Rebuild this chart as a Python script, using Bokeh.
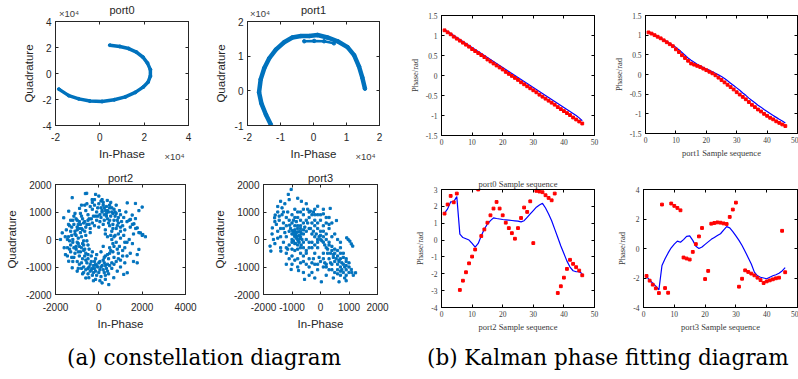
from bokeh.plotting import figure
from bokeh.models import Range1d, FixedTicker, LinearAxis, Div
from bokeh.layouts import row, column
from bokeh.embed import file_html
from bokeh.resources import INLINE

# ---------------- data ----------------
# (a) constellation diagrams
port0_i = [4500, 9000, 13000, 16500, 19500, 21500, 22800, 22800, 21800, 19500,
           16000, 11500, 6500, 1000, -4500, -9500, -14000, -18500]
port0_q = [21800, 20800, 19200, 16500, 12500, 8000, 3000, -2000, -6500, -10500,
           -14500, -18000, -20200, -21500, -21200, -19500, -17000, -12000]

port1_i = [-12900, -14400, -15800, -16500, -16000, -14900, -13400, -11400, -8900, -6400,
           -3800, -1300, 1200, 4200, 7300, 10300, 12300, 13800, 14800, 15600]
port1_q = [-9800, -6900, -3600, -400, 3300, 6600, 9400, 11900, 14000, 15400,
           15800, 15800, 16100, 15400, 14300, 12600, 10300, 7000, 3800, 600]
port1_inner_i = [-2800, 200, 3200, 6200]
port1_inner_q = [14300, 14400, 14300, 13700]

port2_pts = [
    (-620, 1670), (-560, 1680), (-150, 1640), (0, 1580), (-1230, 1520), (150, 1450), (390, 1420),
    (-310, 1450), (1310, 1330), (1690, 1310), (2000, 1180), (-890, 1130), (-1390, 1030), (-1620, 790),
    (1850, 1050), (1540, 890), (1690, 760), (1920, 240), (2150, 100), (2030, 180), (1770, 420),
    (1620, 570), (1460, 730), (-1690, 240), (-1770, 0), (-1540, -550), (-1390, -790), (-1230, -1030),
    (-1000, -1150), (-460, -1390), (-150, -1450), (150, -1580), (460, -1640), (690, -1390),
    (1150, -1270), (1310, -1210), (1770, -850), (1770, -550), (1850, -360),
    (-400, 1200), (-200, 1250), (0, 1300), (200, 1250), (350, 1200), (500, 1150), (700, 1100),
    (-600, 1050), (-300, 1100), (100, 1150), (300, 1050), (450, 1000), (600, 1000), (800, 950),
    (-100, 1000), (900, 800), (-500, 900), (-800, 850), (250, 900), (550, 850), (1000, 900), (-1100, 950),
    (-1200, 700), (-900, 650), (-700, 600), (-500, 700), (-300, 600), (-100, 700), (100, 800), (400, 750),
    (700, 700), (900, 600), (1100, 500), (1300, 650), (-1000, 450), (-800, 400), (-600, 450), (-400, 400),
    (-200, 500), (0, 450), (200, 550), (500, 500), (800, 400), (1000, 300), (1200, 350), (-1300, 300),
    (-1100, 200), (600, 300), (300, 350),
    (-1400, 100), (-1200, 0), (-1000, -100), (-800, 100), (-700, -50), (-600, 150), (-500, -200),
    (-900, -250), (400, 100), (600, 0), (800, -100), (1000, 50), (1200, -100), (1400, 0), (1600, 200),
    (200, -250), (500, -300), (-1300, -200), (-400, 250), (300, 200), (900, 200), (700, -250),
    (-1300, -450), (-1100, -500), (-900, -600), (-700, -400), (-500, -550), (-300, -450), (-100, -550),
    (100, -450), (300, -600), (500, -500), (700, -650), (900, -500), (1100, -400), (1300, -600),
    (-1000, -800), (-800, -850), (-600, -750), (-400, -900), (-200, -800), (0, -850), (200, -750),
    (400, -900), (600, -850), (800, -800), (1000, -750), (1200, -850),
    (-800, -1050), (-600, -1100), (-400, -1150), (-200, -1050), (0, -1200), (200, -1100), (400, -1150),
    (-300, -1300), (100, -1350), (600, -1050), (-500, -1250), (300, -1300),
    (1400, 700), (1550, 550), (1700, 400), (1850, 250), (2000, 150),
    (-1100, 300), (-950, 550), (-850, 250), (-750, -150), (-650, -350), (-1150, -300), (-1050, -350),
    (-950, 50), (-850, -450), (-750, 350), (-550, -50), (-450, -350), (-1250, 150), (-1350, -50),
    (-1450, -300), (150, 1050), (250, 1150), (400, 1050), (500, 1250), (650, 950), (750, 850),
    (50, 900), (-50, 1150), (350, 850), (600, 1150), (-250, -950), (-50, -1000), (150, -950),
    (-350, -1100), (-150, -1150), (50, -1100), (250, -1200), (-450, -1000), (-100, -1300), (350, -1050),
    (-1050, 150), (-900, 400), (-650, 300), (-550, 550), (-350, 750), (-150, 850), (50, 650),
    (250, 700), (450, 600), (650, 550), (850, 500), (1050, 650), (750, 150), (550, 150), (950, -250),
    (850, -350), (650, -450), (450, -700), (250, -850), (-150, -700), (-350, -600), (-550, -850),
    (-750, -700), (-950, -450), (-1150, -650), (-1250, 450), (-1050, 750), (-750, 750), (-450, 550),
    (-1350, 500), (-1500, 350), (-650, -600), (-250, -1200), (-700, -1200), (450, -1250),
    (-1150, 550), (-1000, 350), (-1200, -100), (-1050, -250), (-950, -150), (-800, -300), (-700, -200),
    (-600, -500), (-500, -700), (-350, -800), (-150, -900), (50, -800), (250, -650), (400, -550),
    (550, -400), (650, -150), (700, 100), (650, 400), (500, 700), (350, 950), (150, 1000), (-50, 850),
    (-250, 850), (-450, 750), (-650, 650), (-850, 550), (-1000, 700), (-1150, 850), (-1300, 700),
    (-1400, 550), (-1450, 0), (-1350, -350), (-1200, -800), (-900, -900), (-700, -1000), (-500, -1050),
    (-300, -1050), (-100, -950), (100, -1000), (300, -950), (500, -950), (700, -900), (900, -700),
    (1100, -600), (1200, -300), (1300, -100), (1150, 150), (1000, 450), (850, 700), (750, 1000),
    (950, 1050), (1150, 800), (-850, 950), (-650, 1250), (-300, 1350), (100, 1400), (-750, -1250),
    (-950, -1050), (-1250, -650), (-1450, -600), (-1550, 100), (-1600, -300), (-550, 1300),
    (-800, 1250), (1250, 1000), (1450, 450), (1550, -150), (1450, -500), (1600, -800), (-200, 1450),
    (200, 1350), (550, 1350), (800, 1250), (850, -1150), (1000, -1000), (-600, -1400), (-250, -1500),
    (50, -1500), (300, -1450),
]

port3_pts = [
    (-1030, 1820), (-1130, 1640), (-1400, 1390), (-1590, 890), (-1610, 790), (-1690, 420), (-1770, -240),
    (-1740, -420), (-1390, -420), (-670, 1390), (-100, 1210), (340, 1130), (560, 690), (100, 930),
    (-360, 1030), (-1030, -1090), (-770, -1130), (-560, -1450), (30, -1540), (650, -1540), (1080, -1090),
    (1230, -1210), (970, 0), (1080, -160), (1130, -240), (920, 60), (1030, -60),
    (-1000, 600), (-900, 500), (-800, 400), (-700, 500), (-600, 600), (-1100, 300), (-1000, 200),
    (-900, 100), (-800, 0), (-700, 100), (-600, 200), (-500, 300), (-900, 300), (-700, 300),
    (-1000, -100), (-800, -200), (-600, -100), (-500, 0), (-1200, 100), (-1100, -200), (-900, -400),
    (-700, -500), (-600, -300), (-400, -100), (-300, 200), (-400, 400), (-500, 700), (-300, 600),
    (-200, 700), (-100, 600), (0, 700), (-1200, 800), (-1000, 900), (-800, 800), (-600, 900),
    (-400, 800), (-900, 1100), (-700, 1000), (-1300, 600), (-1400, 400), (-1300, -100), (-1200, -500),
    (-1000, -600), (-800, -700), (-600, -800), (-400, -700), (-200, -500),
    (-200, 100), (0, 0), (-100, -100), (100, -100), (200, -300), (300, -200), (400, -400), (500, -500),
    (600, -600), (500, -800), (600, -900), (700, -1000), (400, -900), (200, -900), (0, -800),
    (-200, -900), (100, -700), (300, -700), (700, -700), (800, -900), (900, -1100), (800, -1200),
    (600, -1100), (200, -1000), (-400, -1000), (500, -1200), (900, -800), (800, -500), (700, -300),
    (1000, -1200), (100, 500), (300, 400), (0, 300), (200, 200), (500, 200), (400, 100), (600, 0),
    (300, 800), (200, 600), (700, -100),
    (-850, 250), (-750, 150), (-950, 250), (-850, 50), (-750, -100), (-650, 0), (-950, -50),
    (-1050, 400), (-550, 450), (-850, 650), (-1150, 1000), (-1350, 1150), (-1500, 1200), (-1250, 1300),
    (-1450, 700), (-1550, 550), (-1500, 50), (-1600, -150), (-1400, -300), (-300, 900), (-100, 900),
    (-450, 1100), (-250, 1000), (100, 1100), (-500, -400), (-300, -300), (-100, -300), (100, -500),
    (300, -1100), (700, -1300), (1000, -1000), (1100, -1200), (900, -1300), (-800, -1000), (-600, -1200),
    (-300, -1200), (-100, -1100), (450, -650), (650, -800), (250, -500),
    (-880, 180), (-780, 280), (-680, 220), (-820, 120), (-720, 40), (-920, 160), (-980, 320),
    (-780, -60), (-880, -140), (-680, -200), (-1080, 520), (-950, 700), (-700, 700), (-450, 600),
    (-350, 400), (-250, 300), (-150, 200), (-50, 100), (50, -50), (150, -200), (250, -350),
    (350, -500), (450, -550), (550, -700), (650, -750), (750, -850), (850, -1000), (700, -1150),
    (350, -850), (150, -850), (-50, -650), (-250, -700), (-1150, -350), (-1250, 250), (-1350, 900),
    (-900, 350), (-800, 500), (-700, 400), (-600, 350), (-1000, 0), (-900, -150), (-800, -350),
    (-700, -300), (-600, -600), (-500, -500), (-400, -300), (-300, -100), (-200, -200), (-100, 0),
    (0, 150), (100, 100), (200, 0), (300, -100), (400, -250), (500, -350), (600, -400), (700, -500),
    (800, -650), (900, -700), (1000, -850), (900, -950), (750, -1100), (600, -1250), (400, -1100),
    (100, -1000), (-100, -900), (-300, -850), (-500, -900), (-700, -850), (-900, -750), (-1100, -700),
    (-1000, -350), (-1200, -300), (-1400, 100), (-1500, 300), (-1300, 400), (-1200, 500), (-1100, 700),
    (-900, 800), (-800, 1000), (-600, 1100), (-400, 1000), (-200, 900), (0, 900), (200, 800),
    (400, 600), (300, 550), (100, 300), (-100, 400), (-200, 500), (-1300, 1000), (-1450, 850),
    (-1600, 650), (-1700, 200), (-1650, 0), (-1200, -900), (-1000, -900), (-400, -1300), (-200, -1400),
    (200, -1300), (450, -1400), (850, -1400), (1150, -1300), (900, -1500), (-1500, 1000), (-1100, 1450),
    (-800, 1500), (-500, 1300), (-200, 1100),
]

# (b) Kalman phase fitting
seq = list(range(1, 47))
k0_meas = [1.13, 1.08, 1.03, 0.97, 0.92, 0.87, 0.82, 0.77, 0.72, 0.66, 0.61, 0.56, 0.51, 0.46, 0.40,
           0.35, 0.30, 0.25, 0.20, 0.15, 0.09, 0.04, -0.01, -0.06, -0.11, -0.17, -0.22, -0.27, -0.32,
           -0.37, -0.42, -0.48, -0.53, -0.58, -0.63, -0.68, -0.73, -0.79, -0.84, -0.89, -0.94, -0.99,
           -1.05, -1.10, -1.15, -1.20]
k0_kal = [1.14, 1.10, 1.05, 1.00, 0.95, 0.90, 0.85, 0.80, 0.75, 0.70, 0.65, 0.60, 0.55, 0.50, 0.45,
          0.40, 0.35, 0.30, 0.25, 0.20, 0.15, 0.10, 0.05, 0.00, -0.05, -0.10, -0.15, -0.20, -0.25,
          -0.30, -0.35, -0.40, -0.45, -0.50, -0.55, -0.60, -0.65, -0.70, -0.75, -0.80, -0.85, -0.90,
          -0.95, -1.00, -1.06, -1.13]
k1_meas = [1.07, 1.04, 1.00, 0.96, 0.92, 0.87, 0.82, 0.77, 0.72, 0.64, 0.57, 0.49, 0.42, 0.35, 0.28,
           0.25, 0.22, 0.19, 0.15, 0.11, 0.07, 0.03, -0.02, -0.08, -0.14, -0.20, -0.26, -0.32, -0.38,
           -0.45, -0.51, -0.57, -0.63, -0.70, -0.77, -0.83, -0.89, -0.94, -1.00, -1.05, -1.10, -1.14,
           -1.19, -1.23, -1.27, -1.31]
k1_kal = [1.08, 1.05, 1.01, 0.97, 0.92, 0.88, 0.84, 0.79, 0.74, 0.69, 0.63, 0.56, 0.49, 0.42, 0.36,
          0.31, 0.26, 0.22, 0.18, 0.14, 0.11, 0.07, 0.03, -0.01, -0.05, -0.10, -0.16, -0.22, -0.28,
          -0.34, -0.40, -0.47, -0.53, -0.60, -0.66, -0.72, -0.78, -0.83, -0.89, -0.94, -0.99, -1.04,
          -1.09, -1.14, -1.18, -1.23]
k2_meas = [1.57, 2.11, 2.62, 2.24, 2.76, -2.96, -2.41, -1.91, -1.38, -0.98, -0.56, 3.00, 0.24, 0.63,
           1.03, 1.47, 1.87, 2.26, 1.87, 1.47, 1.03, 0.71, 0.41, 0.08, 0.71, 1.31, 1.93, 1.67, 2.30,
           -0.18, 2.92, 2.88, 2.84, 2.66, 2.50, 2.36, 2.76, -3.14, -2.74, -2.23, -1.71, -1.17, -1.41,
           -1.61, -1.81, -2.09]
k2_kal = [1.60, 1.85, 2.27, 2.28, 2.58, 0.35, 0.15, 0.08, 0.00, -0.20, -0.42, -0.20, 0.25, 0.65,
          0.95, 1.15, 1.32, 1.28, 1.25, 1.22, 1.20, 1.18, 1.16, 1.14, 1.12, 1.08, 1.15, 1.35, 1.55,
          1.75, 1.95, 2.08, 2.18, 1.90, 1.55, 1.15, 0.65, 0.15, -0.35, -0.80, -1.25, -1.60, -1.82,
          -1.88, -1.88, -2.00]
k3_meas = [-1.86, -2.18, -2.45, -2.70, -3.02, 2.98, -2.68, -3.00, 3.05, 2.89, 2.75, 2.59, -0.61,
           -0.68, -0.75, -0.23, 0.30, 0.82, 1.39, -2.07, -1.52, 1.68, 1.73, 1.77, 1.75, 1.70, 1.66,
           2.14, 2.64, 3.11, -2.59, -2.05, -1.48, -1.59, -1.70, -1.82, -1.98, -2.14, -2.34, -2.23,
           -2.16, -2.09, -2.02, -1.98, 1.20, -1.61]
k3_kal = [-1.90, -2.15, -2.35, -2.55, -2.80, -1.15, -0.70, -0.30, 0.05, 0.30, 0.50, 0.42, 0.60,
          0.82, 0.85, 0.55, 0.15, 0.00, 0.10, 0.28, 0.45, 0.62, 0.75, 0.88, 1.00, 1.25, 1.48, 1.40,
          1.15, 0.85, 0.55, 0.20, -0.20, -0.62, -1.05, -1.60, -1.85, -1.95, -2.00, -2.05, -1.95,
          -1.85, -1.78, -1.68, -1.52, -1.30]

# tick values / labels
t0_x = [-20000, 0, 20000, 40000]; t0_xl = ["-2", "0", "2", "4"]
t0_y = [-40000, -20000, 0, 20000, 40000]; t0_yl = ["-4", "-2", "0", "2", "4"]
t1_x = [-20000, -10000, 0, 10000, 20000]; t1_xl = ["-2", "-1", "0", "1", "2"]
t1_y = [-10000, 0, 10000, 20000]; t1_yl = ["-1", "0", "1", "2"]
t2_x = [-2000, 0, 2000, 4000]; t2_xl = ["-2000", "0", "2000", "4000"]
t2_y = [-2000, -1000, 0, 1000, 2000]; t2_yl = ["-2000", "-1000", "0", "1000", "2000"]
t3_x = [-2000, -1000, 0, 1000, 2000]; t3_xl = ["-2000", "-1000", "0", "1000", "2000"]
t3_y = [-2000, -1000, 0, 1000, 2000]; t3_yl = ["-2000", "-1000", "0", "1000", "2000"]
tk_x = [0, 10, 20, 30, 40, 50]; tk_xl = ["0", "10", "20", "30", "40", "50"]
tk_y01 = [-1.5, -1, -0.5, 0, 0.5, 1, 1.5]; tk_y01l = ["-1.5", "-1", "-0.5", "0", "0.5", "1", "1.5"]
tk_y2 = [-4, -3, -2, -1, 0, 1, 2, 3]; tk_y2l = ["-4", "-3", "-2", "-1", "0", "1", "2", "3"]
tk_y3 = [-4, -2, 0, 2, 4]; tk_y3l = ["-4", "-2", "0", "2", "4"]
exponent_text = "×10⁴"

# ---------------- styling ----------------
SANS = "Liberation Sans"
SERIF = "Liberation Serif"
DARK = "#262626"
MBLUE = "#0072BD"
KGRAY = "#3a3a3a"


def base_fig(w, h, bl, br, bt, bb, xr, yr, title, font, tsize, tcolor, tstand=1):
    p = figure(width=w, height=h, x_range=Range1d(*xr), y_range=Range1d(*yr),
               min_border_left=bl, min_border_right=br, min_border_top=bt, min_border_bottom=bb,
               output_backend="svg", toolbar_location=None, title=title)
    try:
        p.frame_align = False
    except Exception:
        pass
    p.background_fill_color = "white"
    p.border_fill_color = "white"
    p.xgrid.visible = False
    p.ygrid.visible = False
    if title is not None:
        p.title.align = "center"
        p.title.text_font = font
        p.title.text_font_size = tsize
        p.title.text_font_style = "normal"
        p.title.text_color = tcolor
        p.title.standoff = tstand
        p.title.offset = 0
    return p


def style_axes(p, xt, xl, yt, yl, font, size, color, lcolor, xstand, ystand):
    p.outline_line_color = lcolor
    xa = p.below[0]
    ya = p.left[0]
    for ax, tk, lb, st in ((xa, xt, xl, xstand), (ya, yt, yl, ystand)):
        ax.ticker = FixedTicker(ticks=tk, minor_ticks=[])
        ax.major_label_overrides = dict(zip(tk, lb))
        ax.major_tick_in = 3
        ax.major_tick_out = 0
        ax.minor_tick_in = 0
        ax.minor_tick_out = 0
        ax.axis_line_color = lcolor
        ax.major_tick_line_color = lcolor
        ax.major_label_text_font = font
        ax.major_label_text_font_size = size
        ax.major_label_text_color = color
        ax.major_label_standoff = st
        ax.axis_label_text_font_style = "normal"
    for loc, tk in (("above", xt), ("right", yt)):
        ax = LinearAxis(ticker=FixedTicker(ticks=tk, minor_ticks=[]), major_tick_in=3, major_tick_out=0,
                        minor_tick_in=0, minor_tick_out=0, major_label_text_font_size="0px",
                        major_label_text_alpha=0, major_label_standoff=0, axis_label=None,
                        axis_line_color=lcolor, major_tick_line_color=lcolor)
        p.add_layout(ax, loc)
    return xa, ya


def text_axis(p, loc, pos, text, size, standoff, color="#404040"):
    # an axis that carries no ticks, only one text at a given position along it
    ax = LinearAxis(ticker=FixedTicker(ticks=[pos], minor_ticks=[]), major_label_overrides={pos: text},
                    major_tick_in=0, major_tick_out=0, minor_tick_in=0, minor_tick_out=0,
                    axis_line_color=None, major_tick_line_color=None, axis_label=None,
                    major_label_text_font=SANS, major_label_text_font_size=size,
                    major_label_text_color=color, major_label_standoff=standoff)
    p.add_layout(ax, loc)


def const_fig(w, h, bl, br, bt, bb, xr, yr, xt, xl, yt, yl, title, xstand, exp_fracs=None):
    use_title = title if exp_fracs is None else None
    p = base_fig(w, h, bl, br, bt, bb, xr, yr, use_title, SANS, "11px", DARK, tstand=2)
    xa, ya = style_axes(p, xt, xl, yt, yl, SANS, "10px", DARK, DARK, xstand, 4)
    xa.axis_label = "In-Phase"
    ya.axis_label = "Quadrature"
    for ax in (xa, ya):
        ax.axis_label_text_font = SANS
        ax.axis_label_text_font_size = "11.5px"
        ax.axis_label_text_color = DARK
    xa.axis_label_standoff = 4
    ya.axis_label_standoff = 5
    if exp_fracs is not None:
        f_top, f_bot = exp_fracs
        span = xr[1] - xr[0]
        text_axis(p, "above", int(round(xr[0] + span * f_top)), exponent_text, "9.5px", 3)
        text_axis(p, "above", int(round(xr[0] + span * 0.5)), title, "11px", -11, color=DARK)
        text_axis(p, "below", int(round(xr[0] + span * f_bot)), exponent_text, "9.5px", -12)
    return p


def kal_fig(w, h, bl, br, bt, bb, yr, yt, yl, xlabel, meas, kal, title=None):
    p = base_fig(w, h, bl, br, bt, bb, (0, 50), yr, title, SERIF, "8.5px", KGRAY, tstand=1)
    xa, ya = style_axes(p, tk_x, tk_xl, yt, yl, SERIF, "7.5px", KGRAY, "black", 3, 4)
    ya.axis_label = "Phase/rad"
    if xlabel:
        xa.axis_label = xlabel
    for ax in (xa, ya):
        ax.axis_label_text_font = SERIF
        ax.axis_label_text_font_size = "8.5px"
        ax.axis_label_text_color = KGRAY
    xa.axis_label_standoff = 2
    ya.axis_label_standoff = 3
    p.line(seq, kal, line_color="blue", line_width=1.2)
    p.scatter(seq, meas, marker="square", size=2.8, fill_color="red", line_color="red")
    return p


# ---------------- (a) constellation ----------------
a0 = const_fig(210, 165, 55, 22, 19, 40, (-20000, 40000), (-40000, 40000),
               t0_x, t0_xl, t0_y, t0_yl, "port0", 7, exp_fracs=(0.1015, 0.895))
a0.line(port0_i, port0_q, line_color=MBLUE, line_width=3.5)
a0.scatter(port0_i, port0_q, size=3, color=MBLUE)

a1 = const_fig(190, 165, 37, 21, 19, 40, (-20000, 20000), (-10000, 20000),
               t1_x, t1_xl, t1_y, t1_yl, "port1", 7, exp_fracs=(0.095, 0.894))
a1.line(port1_i, port1_q, line_color=MBLUE, line_width=4.5)
a1.line(port1_inner_i, port1_inner_q, line_color=MBLUE, line_width=2.5)
a1.scatter(port1_i + port1_inner_i, port1_q + port1_inner_q, size=3.5, color=MBLUE)

a2 = const_fig(210, 175, 55, 25, 19, 46, (-2000, 4000), (-2000, 2000),
               t2_x, t2_xl, t2_y, t2_yl, "port2", 8)
a2.scatter([pt[0] for pt in port2_pts], [pt[1] for pt in port2_pts], marker="square", size=2.2,
           color=MBLUE)

a3 = const_fig(190, 175, 37, 23, 19, 46, (-2000, 2000), (-2000, 2000),
               t3_x, t3_xl, t3_y, t3_yl, "port3", 8)
a3.scatter([pt[0] for pt in port3_pts], [pt[1] for pt in port3_pts], marker="square", size=2.2,
           color=MBLUE)

# ---------------- (b) Kalman ----------------
b0 = kal_fig(210, 165, 41, 16, 15, 30, (-1.5, 1.5), tk_y01, tk_y01l, None, k0_meas, k0_kal)
b1 = kal_fig(188, 165, 34, 1, 15, 32, (-1.5, 1.5), tk_y01, tk_y01l, "port1 Sample sequence",
             k1_meas, k1_kal)
b2 = kal_fig(210, 175, 41, 16, 24, 33, (-4, 3), tk_y2, tk_y2l, "port2 Sample sequence",
             k2_meas, k2_kal, title="port0 Sample sequence")
b3 = kal_fig(188, 175, 33, 1, 24, 33, (-4, 4), tk_y3, tk_y3l, "port3 Sample sequence",
             k3_meas, k3_kal)

cap = Div(width=798, height=39, text=(
    '<div style="position:relative;width:798px;height:39px;font-family:\'DejaVu Serif\',serif;'
    'font-size:21.5px;color:#000;line-height:24px;">'
    '<span style="position:absolute;left:62px;top:1px;white-space:nowrap;">(a) constellation diagram</span>'
    '<span style="position:absolute;left:422px;top:1px;white-space:nowrap;">(b) Kalman phase fitting diagram</span>'
    '</div>'))

layout = column(row(a0, a1, b0, b1, spacing=0), row(a2, a3, b2, b3, spacing=0), cap, spacing=0)

open("out.html", "w").write(file_html(layout, INLINE))
